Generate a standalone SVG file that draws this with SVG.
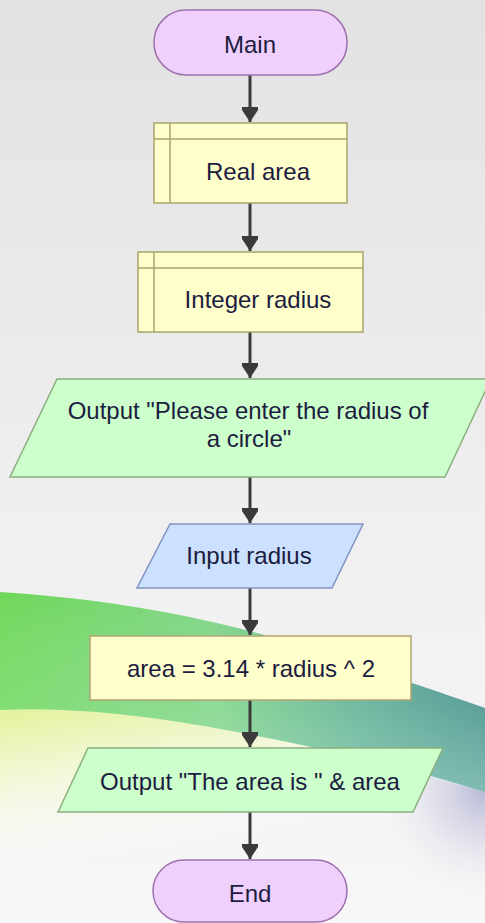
<svg xmlns="http://www.w3.org/2000/svg" width="485" height="923" viewBox="0 0 485 923">
  <defs>
    <linearGradient id="bgBase" x1="0" y1="0" x2="0" y2="1">
      <stop offset="0" stop-color="#e2e2e2"/>
      <stop offset="0.55" stop-color="#efefef"/>
      <stop offset="1" stop-color="#f7f7f7"/>
    </linearGradient>
    <linearGradient id="swooshH" x1="0" y1="0" x2="1" y2="0">
      <stop offset="0" stop-color="#6fd85a"/>
      <stop offset="0.45" stop-color="#7fd487"/>
      <stop offset="0.75" stop-color="#5aaa96"/>
      <stop offset="1" stop-color="#3f8a8c"/>
    </linearGradient>
    <linearGradient id="swooshV" x1="0" y1="0" x2="0" y2="1">
      <stop offset="0" stop-color="#ffffff" stop-opacity="0"/>
      <stop offset="0.55" stop-color="#c8f0d0" stop-opacity="0.2"/>
      <stop offset="1" stop-color="#c0ecd8" stop-opacity="0.5"/>
    </linearGradient>
    <linearGradient id="yellowFade" x1="0" y1="0" x2="0.35" y2="1">
      <stop offset="0" stop-color="#e2f39a"/>
      <stop offset="0.35" stop-color="#f4f9da" stop-opacity="0.8"/>
      <stop offset="0.7" stop-color="#ffffff" stop-opacity="0"/>
    </linearGradient>
    <radialGradient id="lavender" cx="485" cy="790" r="120" gradientUnits="userSpaceOnUse">
      <stop offset="0" stop-color="#a4a4cc" stop-opacity="0.75"/>
      <stop offset="0.5" stop-color="#c8c8e0" stop-opacity="0.35"/>
      <stop offset="1" stop-color="#ffffff" stop-opacity="0"/>
    </radialGradient>
    <marker id="arrow" viewBox="0 0 16 18" refX="15" refY="9" markerWidth="16" markerHeight="18" markerUnits="userSpaceOnUse" orient="auto">
      <path d="M0,1 L3,1 L15,9 L3,17 L0,17 Z" fill="#3a3a3a"/>
    </marker>
  </defs>
  <style>
    .lbl { font-family: "Liberation Sans", Arial, sans-serif; font-size: 24px; fill: #1c1c40; text-anchor: middle; }
    .term { fill: #efd0fd; stroke: #9e70ae; stroke-width: 1.5; }
    .decl { fill: #ffffcc; stroke: #a8a46c; stroke-width: 1.5; }
    .decl-line { stroke: #a8a46c; stroke-width: 1.5; fill: none; }
    .out { fill: #ccffcc; stroke: #8caf80; stroke-width: 1.5; }
    .in { fill: #cce0ff; stroke: #8092c4; stroke-width: 1.5; }
    .assign { fill: #ffffcc; stroke: #b4a476; stroke-width: 1.5; }
    .conn { stroke: #3a3a3a; stroke-width: 3; fill: none; }
  </style>

  <!-- background scene -->
  <g id="background">
    <rect x="0" y="0" width="485" height="923" fill="url(#bgBase)"/>
    <path d="M0,710 C60,707 130,713 210,727 C310,745 400,765 485,792 L485,923 L0,923 Z" fill="url(#yellowFade)"/>
    <path d="M330,750 C380,762 430,776 485,792 L485,923 L330,923 Z" fill="url(#lavender)"/>
    <path d="M0,592 C130,600 240,625 320,652 C390,676 440,692 485,708 L485,792 C400,765 310,745 210,727 C130,713 60,707 0,710 Z" fill="url(#swooshH)"/>
    <path d="M0,592 C130,600 240,625 320,652 C390,676 440,692 485,708 L485,792 C400,765 310,745 210,727 C130,713 60,707 0,710 Z" fill="url(#swooshV)"/>
  </g>

  <!-- connectors -->
  <g id="connectors">
    <line class="conn" x1="250" y1="75" x2="250" y2="122" marker-end="url(#arrow)"/>
    <line class="conn" x1="250" y1="203" x2="250" y2="251" marker-end="url(#arrow)"/>
    <line class="conn" x1="250" y1="332" x2="250" y2="378" marker-end="url(#arrow)"/>
    <line class="conn" x1="250" y1="477" x2="250" y2="523" marker-end="url(#arrow)"/>
    <line class="conn" x1="250" y1="588" x2="250" y2="635" marker-end="url(#arrow)"/>
    <line class="conn" x1="250" y1="700" x2="250" y2="747" marker-end="url(#arrow)"/>
    <line class="conn" x1="250" y1="812" x2="250" y2="859" marker-end="url(#arrow)"/>
  </g>

  <!-- nodes -->
  <g id="node-main">
    <rect class="term" x="154" y="10" width="193" height="65" rx="32" ry="32"/>
    <text class="lbl" x="250" y="53">Main</text>
  </g>

  <g id="node-real-area">
    <rect class="decl" x="154" y="123" width="193" height="80"/>
    <line class="decl-line" x1="170" y1="123" x2="170" y2="203"/>
    <line class="decl-line" x1="154" y1="139" x2="347" y2="139"/>
    <text class="lbl" x="258" y="180">Real area</text>
  </g>

  <g id="node-integer-radius">
    <rect class="decl" x="138" y="252" width="225" height="80"/>
    <line class="decl-line" x1="154" y1="252" x2="154" y2="332"/>
    <line class="decl-line" x1="138" y1="268" x2="363" y2="268"/>
    <text class="lbl" x="258" y="308">Integer radius</text>
  </g>

  <g id="node-output-prompt">
    <polygon class="out" points="57,379 491,379 445,477 10,477"/>
    <text class="lbl" x="248" y="419">Output "Please enter the radius of</text>
    <text class="lbl" x="249" y="447">a circle"</text>
  </g>

  <g id="node-input-radius">
    <polygon class="in" points="170,524 363,524 332,588 137,588"/>
    <text class="lbl" x="249" y="564">Input radius</text>
  </g>

  <g id="node-assign-area">
    <rect class="assign" x="90" y="636" width="321" height="64"/>
    <text class="lbl" x="251" y="677">area = 3.14 * radius ^ 2</text>
  </g>

  <g id="node-output-area">
    <polygon class="out" points="88,748 443,748 413,812 58,812"/>
    <text class="lbl" x="250" y="790">Output "The area is " &amp; area</text>
  </g>

  <g id="node-end">
    <rect class="term" x="153" y="860" width="194" height="62" rx="31" ry="31"/>
    <text class="lbl" x="250" y="902">End</text>
  </g>
</svg>
